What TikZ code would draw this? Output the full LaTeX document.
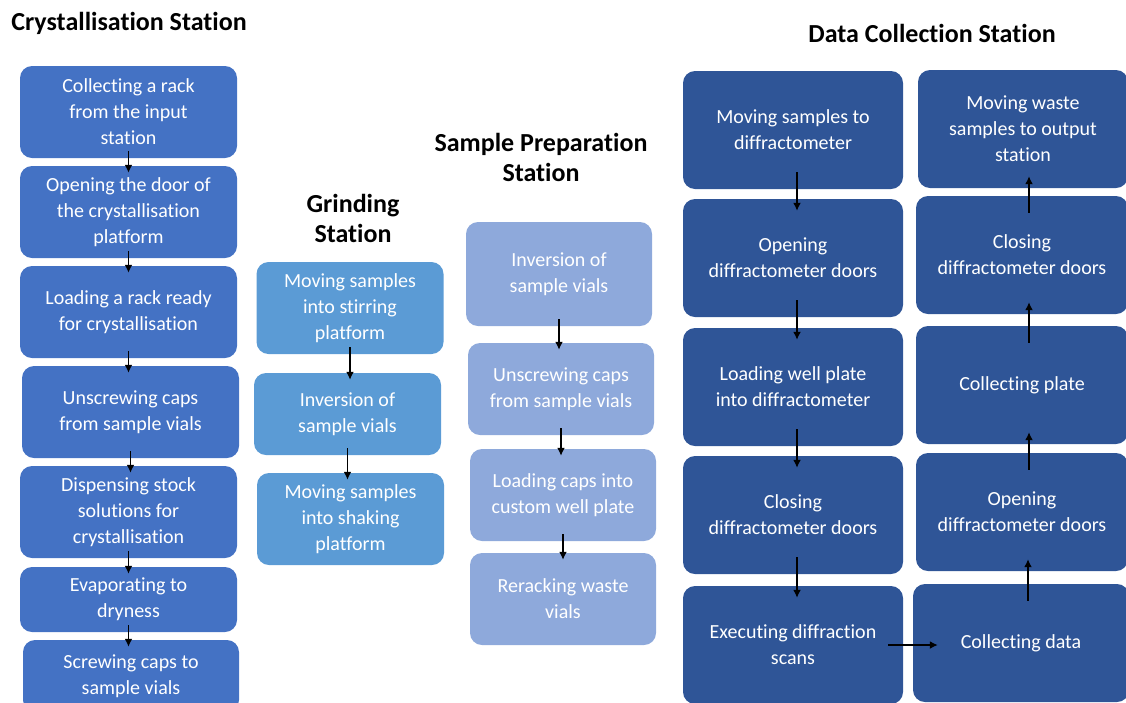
\documentclass[tikz,border=0pt]{standalone}
\usepackage{fontspec}
\setmainfont[Ligatures=NoCommon]{Carlito}
\usepackage{tikz}
\usetikzlibrary{positioning,arrows.meta}
\definecolor{crys}{HTML}{4472C4}
\definecolor{grind}{HTML}{5B9BD5}
\definecolor{prep}{HTML}{8EA9DB}
\definecolor{datac}{HTML}{2F5597}
\newcommand{\stationtitle}[1]{{\bfseries #1}}

\tikzset{
  stepbox/.style={rounded corners=12pt,inner sep=0pt,align=center,text=white,
    font=\fontsize{20}{26}\selectfont},
  crysbox/.style={stepbox,fill=crys,minimum width=217pt,minimum height=92pt},
  grindbox/.style={stepbox,fill=grind,minimum width=187pt,minimum height=92pt},
  prepbox/.style={stepbox,fill=prep,minimum width=186pt,minimum height=92pt},
  databox/.style={stepbox,fill=datac,minimum width=220pt,minimum height=118pt},
  heading/.style={align=center,font=\fontsize{26}{30}\selectfont},
  flow/.style={line width=1.8pt,-{Latex[length=8pt,width=8pt]},shorten <=-7pt,shorten >=-7pt},
  dataflow/.style={flow,shorten <=-17pt,shorten >=-12pt}
}

\begin{document}
\begin{tikzpicture}[x=1pt,y=1pt]
\useasboundingbox (0,0) rectangle (1126,-702);
\clip (0,0) rectangle (1126,-702);

% station titles
\node[heading] (tcrys) at (129,-23) {\stationtitle{Crystallisation Station}};
\node[heading] (tgrind) at (353,-218) {\stationtitle{Grinding}\\\stationtitle{Station}};
\node[heading] (tprep) at (541,-157) {\stationtitle{Sample Preparation}\\\stationtitle{Station}};
\node[heading] (tdata) at (932,-33) {\stationtitle{Data Collection Station}};

% crystallisation station
\node[crysbox] (c1) at (128.5,-112) {Collecting a rack\\from the input\\station};
\node[crysbox] (c2) at (128.5,-212) {Opening the door of\\the crystallisation\\platform};
\node[crysbox] (c3) at (128.5,-312) {Loading a rack ready\\for crystallisation};
\node[crysbox] (c4) at (130.5,-412) {Unscrewing caps\\from sample vials};
\node[crysbox] (c5) at (128.5,-512) {Dispensing stock\\solutions for\\crystallisation};
\node[crysbox,minimum height=65pt] (c6) at (128.5,-599.5) {Evaporating to\\dryness};
\node[crysbox,minimum width=216pt,minimum height=72pt] (c7) at (131,-676) {Screwing caps to\\sample vials};

\foreach \a/\b in {c1/c2,c2/c3,c3/c4,c4/c5,c5/c6,c6/c7}
  \draw[flow] (\a.south) -- (\a.south |- \b.north);

% grinding station
\node[grindbox] (g1) at (350,-308) {Moving samples\\into stirring\\platform};
\node[grindbox,minimum height=82pt] (g2) at (347.5,-414) {Inversion of\\sample vials};
\node[grindbox] (g3) at (350.5,-519) {Moving samples\\into shaking\\platform};

\draw[flow] (g1.south) -- (g1.south |- g2.north);
\draw[flow] (g2.south) -- (g2.south |- g3.north);

% sample preparation station
\node[prepbox,minimum height=104pt] (s1) at (559,-274) {Inversion of\\sample vials};
\node[prepbox] (s2) at (561,-389) {Unscrewing caps\\from sample vials};
\node[prepbox] (s3) at (563,-495) {Loading caps into\\custom well plate};
\node[prepbox] (s4) at (563,-599) {Reracking waste\\vials};

\foreach \a/\b in {s1/s2,s2/s3,s3/s4}
  \draw[flow] (\a.south) -- (\a.south |- \b.north);

% data collection station
\node[databox] (d1) at (793,-130) {Moving samples to\\diffractometer};
\node[databox] (d2) at (793,-258) {Opening\\diffractometer doors};
\node[databox] (d3) at (793,-387) {Loading well plate\\into diffractometer};
\node[databox] (d4) at (793,-515) {Closing\\diffractometer doors};
\node[databox] (d5) at (793,-645) {Executing diffraction\\scans};

\node[databox,minimum width=210pt] (r1) at (1023,-129) {Moving waste\\samples to output\\station};
\node[databox,minimum width=212pt] (r2) at (1022,-255) {Closing\\diffractometer doors};
\node[databox,minimum width=212pt] (r3) at (1022,-385) {Collecting plate};
\node[databox,minimum width=212pt] (r4) at (1022,-512) {Opening\\diffractometer doors};
\node[databox,minimum width=216pt] (r5) at (1021,-643) {Collecting data};

\foreach \a/\b in {d1/d2,d2/d3,d3/d4,d4/d5}
  \draw[dataflow] ([xshift=4pt]\a.south) -- ([xshift=4pt]\a.south |- \b.north);
\foreach \a/\b in {r5/r4,r4/r3,r3/r2,r2/r1}
  \draw[dataflow] ([xshift=7pt]\a.north) -- ([xshift=7pt]\a.north |- \b.south);
\draw[flow,shorten <=-15pt,shorten >=-25pt] (d5.east) -- (d5.east -| r5.west);
\end{tikzpicture}
\end{document}
